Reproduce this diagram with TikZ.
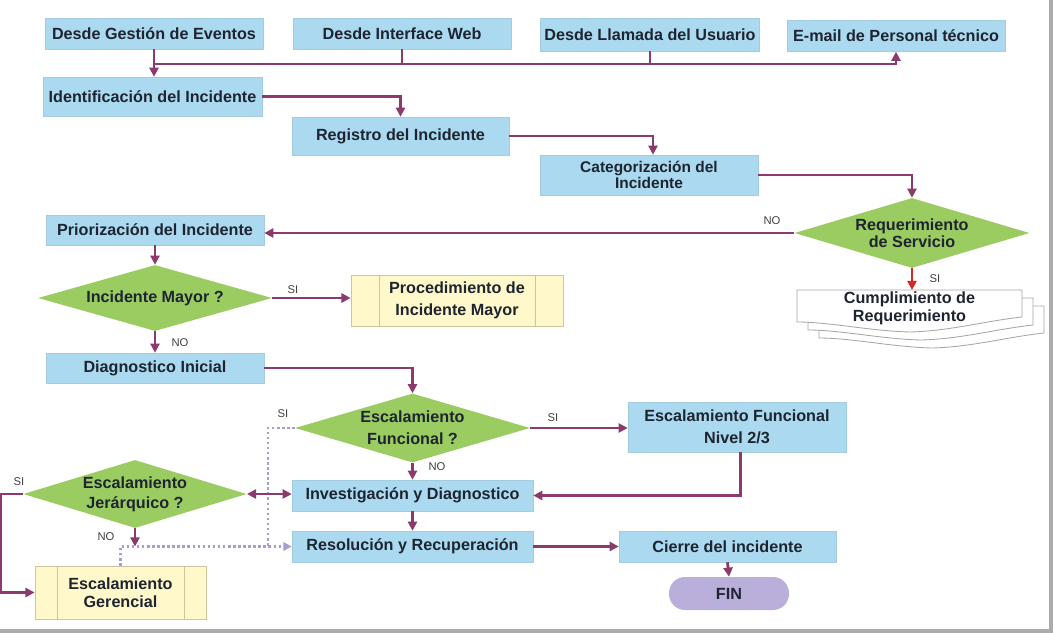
\documentclass[tikz,border=0pt]{standalone}
\usepackage{fontspec}
\setmainfont{Liberation Sans}
\usetikzlibrary{shapes.geometric, arrows.meta}

\definecolor{boxblue}{RGB}{170,217,240}
\definecolor{decgreen}{RGB}{155,204,98}
\definecolor{predyellow}{RGB}{255,248,202}
\definecolor{predline}{RGB}{205,196,160}
\definecolor{flowpurple}{RGB}{138,58,108}
\definecolor{dotlilac}{RGB}{168,156,210}
\definecolor{finlilac}{RGB}{186,174,218}
\definecolor{sired}{RGB}{215,40,40}
\definecolor{txt}{RGB}{30,36,48}
\definecolor{framegray}{RGB}{172,172,172}

\tikzset{
  sz/.style 2 args={minimum width=#1*0.025cm, minimum height=#2*0.025cm},
  lead/.style={font=\bfseries\fontsize{11.5}{#1}\selectfont},
  proc/.style={rectangle, fill=boxblue, draw=boxblue!85!gray, line width=0.4pt, inner sep=1pt, align=center},
  decision/.style={diamond, aspect=3.4, fill=decgreen, inner sep=0pt, align=center},
  predef/.style={rectangle, fill=predyellow, draw=predline, line width=0.6pt, align=center,
    path picture={\draw[predline, line width=0.6pt]
      ([xshift=#1]path picture bounding box.north west) -- ([xshift=#1]path picture bounding box.south west)
      ([xshift=-#1]path picture bounding box.north east) -- ([xshift=-#1]path picture bounding box.south east);}},
  lbl/.style={font=\fontsize{8}{9}\selectfont, text=black!75},
  wire/.style={draw=flowpurple, line width=2pt},
  flow/.style={wire, -{Triangle[length=6.5pt, width=6.5pt]}},
  dotline/.style={draw=dotlilac, line width=1.8pt, dash pattern=on 1.8pt off 1.8pt},
  docline/.style={draw=black!35, line width=0.6pt, fill=white}
}

\begin{document}
\begin{tikzpicture}[x=0.025cm, y=-0.025cm, font=\bfseries\fontsize{11.5}{13}\selectfont, text=txt]

% Page and frame
\useasboundingbox (0,0) rectangle (1053,633);
\fill[framegray] (1049,0) rectangle (1053,633);
\fill[framegray] (0,629) rectangle (1053,633);

% Entry points
\node[proc, sz={218}{31}] (gestion) at (154,33.5) {Desde Gestión de Eventos};
\node[proc, sz={218}{31}] (web) at (402,33.5) {Desde Interface Web};
\node[proc, sz={219}{33}] (llamada) at (650,34.5) {Desde Llamada del Usuario};
\node[proc, sz={218}{31}] (email) at (896,36) {E-mail de Personal técnico};

% Main steps
\node[proc, sz={219}{39}] (ident) at (152.5,96.5) {Identificación del Incidente};
\node[proc, sz={217}{38}] (registro) at (400.5,136) {Registro del Incidente};
\node[proc, sz={218}{40}, font=\bfseries\fontsize{11}{10}\selectfont] (categ) at (649,175) {Categorización del\\Incidente};
\node[decision, sz={235}{70}, lead=10.7] (req) at (912,233) {Requerimiento\\de Servicio};

% Service request documents
\foreach \d in {2,1,0}
  \draw[docline, shift={(11*\d,8*\d)}] (797,290) -- (1022,290) -- (1022,317)
    .. controls (985,321) and (950,331) .. (910,332)
    .. controls (870,331) and (830,322) .. (797,322) -- cycle;
\node[sz={225}{32}, lead=12.8, align=center] (cumpl) at (909.5,308) {Cumplimiento de\\Requerimiento};

\node[proc, sz={218}{30}] (prior) at (155,230) {Priorización del Incidente};
\node[decision, sz={234}{66}] (mayor) at (155,298) {Incidente Mayor ?};
\node[predef=0.7cm, sz={212}{51}, lead=15.4] (procmayor) at (457,300.5) {Procedimiento de\\Incidente Mayor};
\node[proc, sz={218}{30}] (diag) at (155,368) {Diagnostico Inicial};

% Escalation and resolution
\node[decision, sz={235}{69}, lead=15.6] (funcional) at (412.5,428) {Escalamiento\\Funcional ?};
\node[proc, sz={218}{50}, lead=15.4] (escfunc) at (737,427) {Escalamiento Funcional\\Nivel 2/3};
\node[proc, sz={241}{31}] (invest) at (412.5,495.5) {Investigación y Diagnostico};
\node[proc, sz={241}{31}] (resol) at (412.5,546.5) {Resolución y Recuperación};
\node[proc, sz={217}{31}] (cierre) at (727.5,546.5) {Cierre del incidente};
\node[rectangle, rounded corners=0.4cm, fill=finlilac, sz={120}{33}] (fin) at (729,593.5) {FIN};
\node[decision, sz={216}{68}, lead=14.2] (jerarq) at (135,494) {Escalamiento\\Jerárquico ?};
\node[predef=0.55cm, sz={171}{53}, lead=13] (gerencial) at (120.5,592.5) {Escalamiento\\Gerencial};

% Dotted paths
\coordinate (dotturn) at (268,546.5);
\draw[dotline] (funcional.west) -| (dotturn);
\draw[dotline, -{Triangle[length=6pt, width=6pt]}] (gerencial.north) |- (resol.west);

% Connectors
\coordinate (bus) at (154,64);
\draw[flow] (gestion.south) -- (gestion.south |- ident.north);
\draw[wire] (web.south) -- (web.south |- bus);
\draw[wire] (llamada.south) -- (llamada.south |- bus);
\draw[flow] (bus) -| (email.south);
\draw[flow] (ident.east) -| (registro.north);
\draw[flow] (registro.east) -| ([xshift=0.1cm]categ.north);
\draw[flow] (categ.east) -| (req.north);
\draw[flow] (req.west) -- (req.west -| prior.east);
\draw[flow, draw=sired] (req.south) -- (req.south |- 0,290);
\draw[flow] (prior.south) -- (mayor.north);
\draw[flow] (mayor.east) -- (mayor.east -| procmayor.west);
\draw[flow] (mayor.south) -- (diag.north);
\draw[flow] (diag.east) -| (funcional.north);
\draw[flow] (funcional.east) -- (funcional.east -| escfunc.west);
\draw[flow] ([xshift=0.08cm]escfunc.south) |- (invest.east);
\draw[flow] (funcional.south) -- (invest.north);
\draw[flow] (invest.south) -- (resol.north);
\draw[flow] (resol.east) -- (cierre.west);
\draw[flow] (cierre.south) -- (fin.north);
\draw[wire, {Triangle[length=6.5pt, width=6.5pt]}-{Triangle[length=6.5pt, width=6.5pt]}] (jerarq.east) -- (jerarq.east -| invest.west);
\draw[flow] (jerarq.west) -- ++(-22,0) |- (gerencial.west);
\draw[flow] (jerarq.south) -- (jerarq.south |- resol.west);

% Branch labels
\node[lbl] (noreq) at (772,221) {NO};
\node[lbl] (sireq) at (935,279) {SI};
\node[lbl] (simayor) at (293,290) {SI};
\node[lbl] (nomayor) at (180,343) {NO};
\node[lbl] (sifunc) at (553,418) {SI};
\node[lbl] (sidot) at (283,414) {SI};
\node[lbl] (nofunc) at (437,467) {NO};
\node[lbl] (sijer) at (19,482) {SI};
\node[lbl] (nojer) at (106,537) {NO};

\end{tikzpicture}
\end{document}
